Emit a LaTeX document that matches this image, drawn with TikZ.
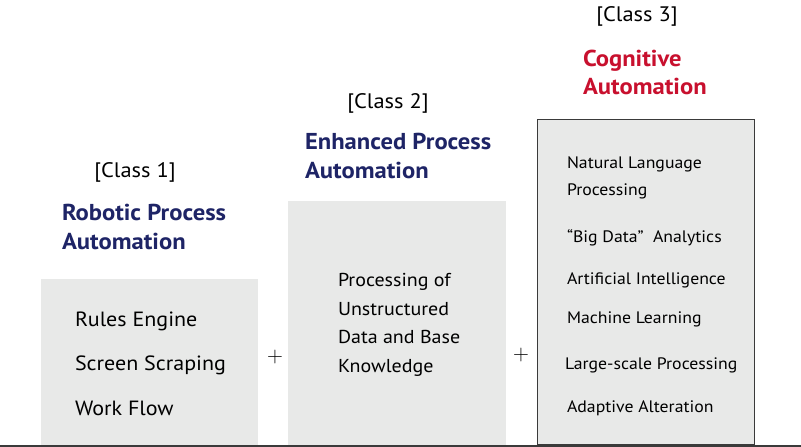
\documentclass[tikz,border=0pt]{standalone}
\usepackage{fontspec}
\setmainfont[FakeStretch=1.07]{PT Sans}
\newfontfamily\plusfont{Latin Modern Roman}
\definecolor{boxgray}{HTML}{E8E9E8}
\definecolor{navy}{HTML}{1E2466}
\definecolor{cogred}{HTML}{C8102E}
\definecolor{edge}{HTML}{3A3A3A}
\begin{document}
\begin{tikzpicture}[x=1pt,y=-1pt,
  every node/.style={inner sep=0pt,outer sep=0pt},
  bodya/.style={anchor=base west,font=\fontsize{20.6}{24}\selectfont},
  bodyb/.style={anchor=base west,font=\fontsize{18.7}{22}\selectfont},
  small/.style={anchor=base west,font=\fontsize{16.6}{20}\selectfont},
  classlbl/.style={anchor=base,font=\fontsize{21}{24}\selectfont},
  title/.style={anchor=base west,font=\bfseries\fontsize{23}{26}\selectfont},
  plus/.style={anchor=center,font=\plusfont\fontsize{22}{24}\selectfont},
  panel/.style={fill=boxgray,draw=none}]
\useasboundingbox (0,0) rectangle (801,447);
% panels
\path[panel] (41,279) rectangle (258,445);
\path[panel] (288,201) rectangle (506,445);
\path[panel,draw=edge,line width=1pt] (537.5,119.5) rectangle (754.5,444);
\draw[edge,line width=1.6pt] (0,445.7) -- (801,445.7);
% class 1
\node[classlbl] (c1) at (135,177) {[Class 1]};
\node[title,text=navy] (t1a) at (62,220) {Robotic Process};
\node[title,text=navy] (t1b) at (62,249) {Automation};
\node[bodya] (r1) at (75,326) {Rules Engine};
\node[bodya] (r2) at (75,370) {Screen Scraping};
\node[bodya] (r3) at (75,415) {Work Flow};
\node[plus] (p1) at (275,357) {+};
% class 2
\node[classlbl] (c2) at (388,108) {[Class 2]};
\node[title,text=navy] (t2a) at (305,149) {Enhanced Process};
\node[title,text=navy] (t2b) at (305,178) {Automation};
\node[bodyb] (e1) at (338,286) {Processing of};
\node[bodyb] (e2) at (338,315) {Unstructured};
\node[bodyb] (e3) at (338,343) {Data and Base};
\node[bodyb] (e4) at (338,372) {Knowledge};
\node[plus] (p2) at (521,355) {+};
% class 3
\node[classlbl] (c3) at (637,21) {[Class 3]};
\node[title,text=cogred] (t3a) at (583,66) {Cognitive};
\node[title,text=cogred] (t3b) at (583,94) {Automation};
\node[small] (n1) at (567,168) {Natural Language};
\node[small] (n2) at (567,195) {Processing};
\node[small] (n3) at (567,242) {“Big Data”\ \ Analytics};
\node[small] (n4) at (567,284) {Artificial Intelligence};
\node[small] (n5) at (567,323) {Machine Learning};
\node[small] (n6) at (565,369) {Large-scale Processing};
\node[small] (n7) at (567,412) {Adaptive Alteration};
\end{tikzpicture}
\end{document}
